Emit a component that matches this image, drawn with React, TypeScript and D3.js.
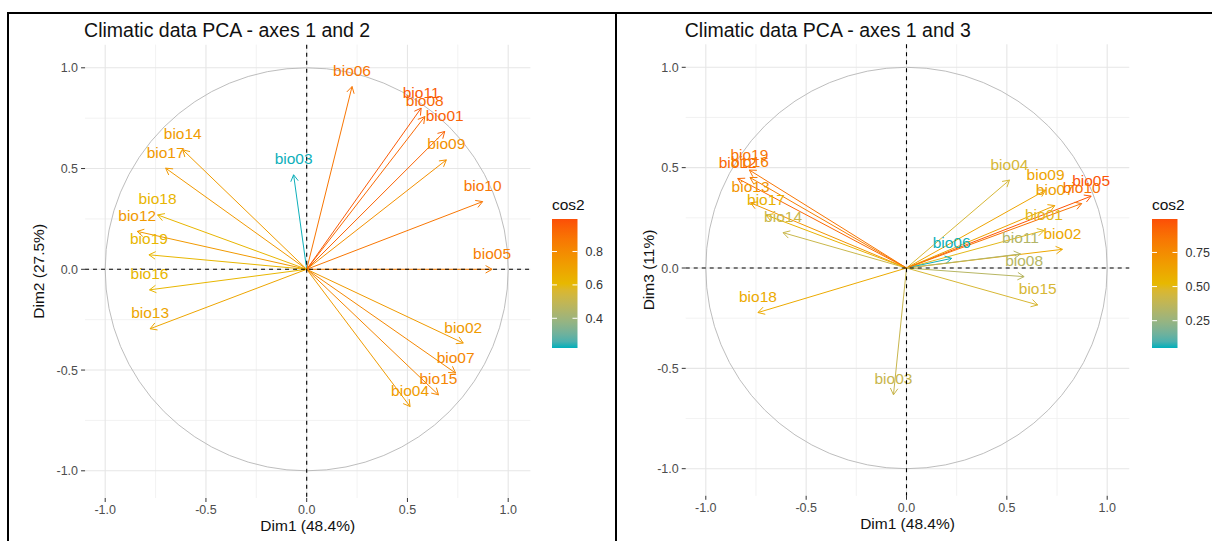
import * as d3 from 'd3'
import { useEffect, useRef } from 'react'

// variable loadings
const variables = ['bio01', 'bio02', 'bio03', 'bio04', 'bio05', 'bio06', 'bio07', 'bio08', 'bio09', 'bio10',
  'bio11', 'bio12', 'bio13', 'bio14', 'bio15', 'bio16', 'bio17', 'bio18', 'bio19']
const dim1 = [0.685, 0.777, -0.065, 0.513, 0.92, 0.225, 0.739, 0.586, 0.693, 0.873,
  0.568, -0.841, -0.777, -0.615, 0.654, -0.78, -0.7, -0.74, -0.783]
const dim2 = [0.684, -0.366, 0.469, -0.681, 0.0, 0.907, -0.515, 0.758, 0.543, 0.336,
  0.8, 0.188, -0.295, 0.593, -0.623, -0.102, 0.502, 0.27, 0.072]
const dim3 = [0.187, 0.093, -0.632, 0.438, 0.358, 0.048, 0.311, -0.043, 0.388, 0.321,
  0.07, 0.446, 0.325, 0.176, -0.184, 0.451, 0.264, -0.222, 0.488]

const axisTicks = [-1, -0.5, 0, 0.5, 1]
const minorTicks = [-0.75, -0.25, 0.25, 0.75]
const legendTicks12 = [0.4, 0.6, 0.8]
const legendTicks13 = [0.25, 0.5, 0.75]
const cos2Limits12 = [0.222, 0.995]
const cos2Limits13 = [0.05, 0.995]
const gradientColors = ['#00AFBB', '#E7B800', '#FC4E07']

const FONT = 'Arial, "Liberation Sans", Helvetica, sans-serif'

function drawPanel(svg, o) {
  const g = svg.append('g')
  const x = d3.scaleLinear().domain([-1, 1]).range([o.cx - o.k, o.cx + o.k])
  const y = d3.scaleLinear().domain([-1, 1]).range([o.cy + o.k, o.cy - o.k])
  const xLim = [-1.1, 1.11]
  const yLim = [-1.135, 1.115]
  const left = x(xLim[0]), right = x(xLim[1]), top = y(yLim[1]), bottom = y(yLim[0])

  const color = d3.scaleLinear()
    .domain([o.limits[0], (o.limits[0] + o.limits[1]) / 2, o.limits[1]])
    .range(gradientColors)
    .interpolate(d3.interpolateLab)
    .clamp(true)

  // grid
  g.selectAll('line.vminor').data(minorTicks).join('line')
    .attr('x1', d => x(d)).attr('x2', d => x(d)).attr('y1', top).attr('y2', bottom)
    .attr('stroke', '#efefef').attr('stroke-width', 0.8)
  g.selectAll('line.hminor').data(minorTicks).join('line')
    .attr('y1', d => y(d)).attr('y2', d => y(d)).attr('x1', left).attr('x2', right)
    .attr('stroke', '#efefef').attr('stroke-width', 0.8)
  g.append('g').selectAll('line').data(axisTicks).join('line')
    .attr('x1', d => x(d)).attr('x2', d => x(d)).attr('y1', top).attr('y2', bottom)
    .attr('stroke', '#e6e6e6').attr('stroke-width', 1.1)
  g.append('g').selectAll('line').data(axisTicks).join('line')
    .attr('y1', d => y(d)).attr('y2', d => y(d)).attr('x1', left).attr('x2', right)
    .attr('stroke', '#e6e6e6').attr('stroke-width', 1.1)

  // correlation circle
  g.append('circle')
    .attr('cx', x(0)).attr('cy', y(0)).attr('r', x(1) - x(0))
    .attr('fill', 'none').attr('stroke', '#b5b5b5').attr('stroke-width', 0.9)

  const pts = variables.map((name, i) => {
    const a = dim1[i], b = o.ys[i]
    return { name, a, b, cos2: a * a + b * b }
  })

  // arrows
  const arrows = g.append('g')
  pts.forEach(p => {
    const x0 = x(0), y0 = y(0), x1 = x(p.a), y1 = y(p.b)
    const ang = Math.atan2(y1 - y0, x1 - x0)
    const L = 7.5
    const c = color(p.cos2)
    arrows.append('line')
      .attr('x1', x0).attr('y1', y0).attr('x2', x1).attr('y2', y1)
      .attr('stroke', c).attr('stroke-width', 1)
    const h1 = [x1 - L * Math.cos(ang - Math.PI / 6), y1 - L * Math.sin(ang - Math.PI / 6)]
    const h2 = [x1 - L * Math.cos(ang + Math.PI / 6), y1 - L * Math.sin(ang + Math.PI / 6)]
    arrows.append('path')
      .attr('d', `M${h1[0]},${h1[1]}L${x1},${y1}L${h2[0]},${h2[1]}`)
      .attr('fill', 'none').attr('stroke', c).attr('stroke-width', 1)
  })

  // labels
  g.append('g').selectAll('text').data(pts).join('text')
    .attr('x', d => x(d.a))
    .attr('y', d => y(d.b) - 10.5)
    .attr('text-anchor', 'middle')
    .attr('font-family', FONT)
    .attr('font-size', 15.5)
    .attr('fill', d => color(d.cos2))
    .text(d => d.name)

  // reference lines on top
  g.append('line')
    .attr('x1', x(0)).attr('x2', x(0)).attr('y1', top).attr('y2', bottom)
    .attr('stroke', '#000').attr('stroke-width', 1.1).attr('stroke-dasharray', '4,4')
  g.append('line')
    .attr('y1', y(0)).attr('y2', y(0)).attr('x1', left).attr('x2', right)
    .attr('stroke', '#000').attr('stroke-width', 1.1).attr('stroke-dasharray', '4,4')

  // axes
  const fmt = d => d3.format('.1f')(d).replace('\u2212', '-')
  g.append('g').selectAll('line').data(axisTicks).join('line')
    .attr('x1', left - 4).attr('x2', left).attr('y1', d => y(d)).attr('y2', d => y(d))
    .attr('stroke', '#333').attr('stroke-width', 1)
  g.append('g').selectAll('text').data(axisTicks).join('text')
    .attr('x', left - 7).attr('y', d => y(d) + 4.5)
    .attr('text-anchor', 'end').attr('font-family', FONT).attr('font-size', 12.5)
    .attr('fill', '#4d4d4d').text(d => fmt(d))
  g.append('g').selectAll('line').data(axisTicks).join('line')
    .attr('y1', bottom).attr('y2', bottom + 4).attr('x1', d => x(d)).attr('x2', d => x(d))
    .attr('stroke', '#333').attr('stroke-width', 1)
  g.append('g').selectAll('text').data(axisTicks).join('text')
    .attr('x', d => x(d)).attr('y', bottom + 16)
    .attr('text-anchor', 'middle').attr('font-family', FONT).attr('font-size', 12.5)
    .attr('fill', '#4d4d4d').text(d => fmt(d))

  g.append('text')
    .attr('x', (left + right) / 2).attr('y', bottom + 33)
    .attr('text-anchor', 'middle').attr('font-family', FONT).attr('font-size', 15.5)
    .attr('fill', '#111').text(o.xTitle)
  g.append('text')
    .attr('transform', `translate(${o.yTitleX},${(top + bottom) / 2}) rotate(-90)`)
    .attr('text-anchor', 'middle').attr('font-family', FONT).attr('font-size', 15.5)
    .attr('fill', '#111').text(o.yTitle)

  g.append('text')
    .attr('x', left - 1).attr('y', 37)
    .attr('font-family', FONT).attr('font-size', 19.5)
    .attr('fill', '#111').text(o.title)

  // legend
  const barX = o.legendX, barW = 25.5, barTop = 219, barBottom = 348
  const ly = d3.scaleLinear().domain(o.limits).range([barBottom, barTop])
  const gradId = 'grad' + o.id
  const grad = svg.append('defs').append('linearGradient')
    .attr('id', gradId).attr('x1', 0).attr('x2', 0).attr('y1', 1).attr('y2', 0)
  d3.range(0, 1.0001, 0.05).forEach(t => {
    grad.append('stop').attr('offset', t)
      .attr('stop-color', color(o.limits[0] + t * (o.limits[1] - o.limits[0])))
  })
  g.append('text')
    .attr('x', barX).attr('y', 210)
    .attr('font-family', FONT).attr('font-size', 15.5).attr('fill', '#111').text('cos2')
  g.append('rect')
    .attr('x', barX).attr('y', barTop).attr('width', barW).attr('height', barBottom - barTop)
    .attr('fill', `url(#${gradId})`)
  o.legendTicks.forEach(t => {
    g.append('line').attr('x1', barX).attr('x2', barX + 5).attr('y1', ly(t)).attr('y2', ly(t))
      .attr('stroke', '#fff').attr('stroke-width', 1)
    g.append('line').attr('x1', barX + barW - 5).attr('x2', barX + barW).attr('y1', ly(t)).attr('y2', ly(t))
      .attr('stroke', '#fff').attr('stroke-width', 1)
    g.append('text')
      .attr('x', barX + barW + 8).attr('y', ly(t) + 4.5)
      .attr('font-family', FONT).attr('font-size', 12.5).attr('fill', '#333')
      .text(o.legendFmt(t))
  })
}

export default function App() {
  const ref = useRef(null)

  useEffect(() => {
    const svg = d3.select(ref.current)
    svg.selectAll('*').remove()

    svg.append('rect').attr('width', 1212).attr('height', 541).attr('fill', '#fff')

    drawPanel(svg, {
      id: 12, cx: 306.7, cy: 269.3, k: 201.5, ys: dim2,
      title: 'Climatic data PCA - axes 1 and 2', xTitle: 'Dim1 (48.4%)', yTitle: 'Dim2 (27.5%)',
      yTitleX: 44, legendX: 552, limits: cos2Limits12, legendTicks: legendTicks12,
      legendFmt: d3.format('.1f'),
    })
    drawPanel(svg, {
      id: 13, cx: 906.5, cy: 268, k: 200.7, ys: dim3,
      title: 'Climatic data PCA - axes 1 and 3', xTitle: 'Dim1 (48.4%)', yTitle: 'Dim3 (11%)',
      yTitleX: 654, legendX: 1152, limits: cos2Limits13, legendTicks: legendTicks13,
      legendFmt: d3.format('.2f'),
    })

    // screenshot frames
    svg.append('path')
      .attr('d', 'M8,541V13H1212M616,13V541')
      .attr('fill', 'none').attr('stroke', '#000').attr('stroke-width', 2)
  }, [])

  return (
    <svg ref={ref} width={1212} height={541} style={{ position: 'absolute', left: 0, top: 0 }} />
  )
}
